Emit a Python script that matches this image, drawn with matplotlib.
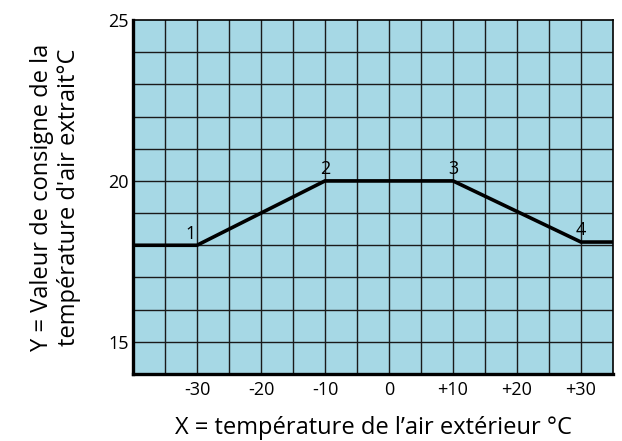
import matplotlib
matplotlib.use("Agg")
import matplotlib.pyplot as plt
import numpy as np

# ── Data ──────────────────────────────────────────────────────────────────────
outdoor_temp = [-40, -30, -10, 10, 30, 35]
setpoint     = [18.0, 18.0, 20.0, 20.0, 18.1, 18.1]

point_labels = ["1", "2", "3", "4"]
point_x      = [-31, -10, 10, 30]
point_y      = [18.0, 20.0, 20.0, 18.1]

xtick_vals   = [-30, -20, -10, 0, 10, 20, 30]
xtick_labels = ["-30", "-20", "-10", "0", "+10", "+20", "+30"]
ytick_vals   = [15, 20, 25]

plt.rcParams["font.family"] = ["Open Sans", "DejaVu Sans"]

fig = plt.figure(figsize=(6.22, 4.41), dpi=100)
ax = fig.add_axes([0.2138, 0.152, 0.7717, 0.8026])
ax.set_facecolor("#a6d8e5")

# grid
for gx in np.arange(-35, 35, 5):
    ax.axvline(gx, color="#1a1a1a", lw=1.0, zorder=1)
for gy in np.arange(15, 25, 1):
    ax.axhline(gy, color="#1a1a1a", lw=1.0, zorder=1)

ax.plot(outdoor_temp, setpoint, color="black", lw=2.6, zorder=3,
        solid_joinstyle="miter")

for lab, px, py in zip(point_labels, point_x, point_y):
    ax.text(px, py + 0.08, lab, ha="center", va="bottom", fontsize=13, zorder=4)

ax.set_xlim(-40, 35)
ax.set_ylim(14, 25)
ax.set_xticks(xtick_vals)
ax.set_xticklabels(xtick_labels)
ax.set_yticks(ytick_vals)
ax.tick_params(length=0, labelsize=13)
ax.tick_params(axis="x", pad=5)
ax.tick_params(axis="y", pad=3)

for side in ("left", "bottom"):
    ax.spines[side].set_linewidth(2.4)
for side in ("top", "right"):
    ax.spines[side].set_linewidth(1.2)

ax.set_xlabel("X = température de l\u2019air extérieur °C", fontsize=17, labelpad=12)
ax.set_ylabel("Y = Valeur de consigne de la\ntempérature d'air extrait°C",
              fontsize=17, labelpad=20, linespacing=1.15)

fig.savefig("out.png", dpi=100)
